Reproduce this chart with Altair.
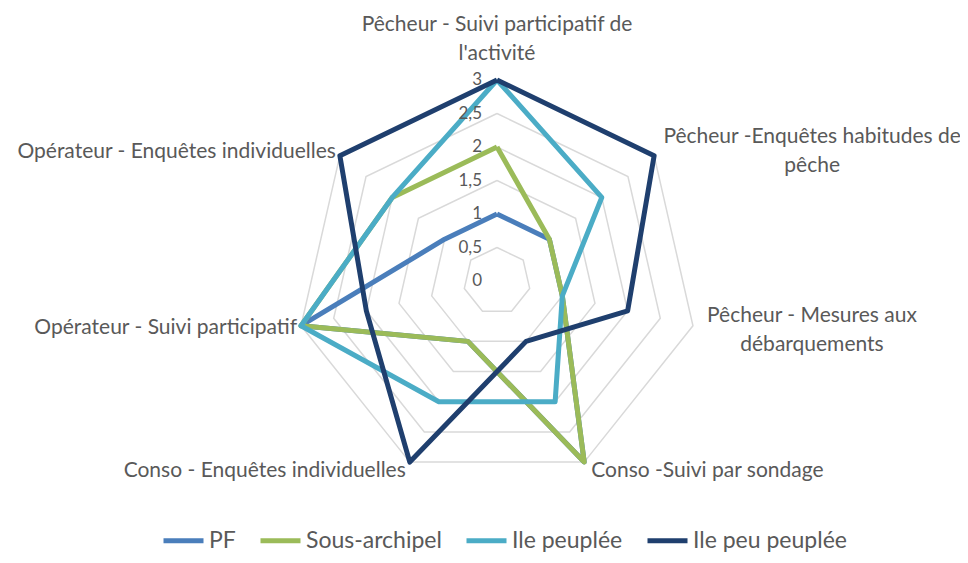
import math
import altair as alt
import pandas as pd

# ---------------- data ----------------
categories = [
    "Pêcheur - Suivi participatif de\nl'activité",
    "Pêcheur -Enquêtes habitudes de\npêche",
    "Pêcheur - Mesures aux\ndébarquements",
    "Conso -Suivi par sondage",
    "Conso - Enquêtes individuelles",
    "Opérateur - Suivi participatif",
    "Opérateur - Enquêtes individuelles",
]
series_names = ["PF", "Sous-archipel", "Ile peuplée", "Ile peu peuplée"]
pf_values = [1, 1, 1, 3, 1, 3, 1]
sous_archipel_values = [2, 1, 1, 3, 1, 3, 2]
ile_peuplee_values = [3, 2, 1, 2, 2, 3, 2]
ile_peu_peuplee_values = [3, 3, 2, 1, 3, 2, 3]
tick_values = [0, 0.5, 1, 1.5, 2, 2.5, 3]
tick_labels = ["0", "0,5", "1", "1,5", "2", "2,5", "3"]
ring_values = [0.5, 1, 1.5, 2, 2.5, 3]
max_value = 3

colors = ["#4A7EBB", "#9BBB59", "#4BACC6", "#1F3F6E"]
text_color = "#595959"
font = "Lato"

# ---------------- tables ----------------
n = len(categories)
all_series = [pf_values, sous_archipel_values, ile_peuplee_values, ile_peu_peuplee_values]
rows = []
for name, vals in zip(series_names, all_series):
    for k in range(n + 1):
        rows.append({"series": name, "k": k, "value": vals[k % n]})
series_df = pd.DataFrame(rows)

ring_rows = []
for r in ring_values:
    for k in range(n + 1):
        ring_rows.append({"ring": r, "k": k, "value": r})
ring_df = pd.DataFrame(ring_rows)

tick_df = pd.DataFrame({"value": tick_values, "label": tick_labels})
label_df = pd.DataFrame({"k": list(range(n)), "label": categories, "value": [max_value] * n})

# ---------------- layout ----------------
W, H = 952, 545
cx, cy = 489, 273      # centre of the radar in chart pixels
ppu = 67               # pixels per unit
x_dom = [-cx / ppu, (W - cx) / ppu]
y_dom = [-(H - cy) / ppu, cy / ppu]

X = alt.X("x:Q", scale=alt.Scale(domain=x_dom, nice=False, zero=False), axis=None)
Y = alt.Y("y:Q", scale=alt.Scale(domain=y_dom, nice=False, zero=False), axis=None)


def polar(chart):
    return chart.transform_calculate(
        angle=f"datum.k * 2 * PI / {n}"
    ).transform_calculate(
        x="datum.value * sin(datum.angle)",
        y="datum.value * cos(datum.angle)",
    )


rings = polar(alt.Chart(ring_df)).mark_line(
    color="#D9D9D9", strokeWidth=1.5
).encode(x=X, y=Y, detail="ring:N", order="k:Q")

lines = polar(alt.Chart(series_df)).mark_line(
    strokeWidth=5, strokeJoin="round"
).encode(
    x=X, y=Y, order="k:Q",
    color=alt.Color(
        "series:N",
        scale=alt.Scale(domain=series_names, range=colors),
        legend=alt.Legend(
            title=None, orient="none", direction="horizontal",
            legendX=153, legendY=510, symbolType="stroke",
            symbolSize=1600, symbolStrokeWidth=5, labelOffset=3,
            columnPadding=14, labelFont=font, labelFontSize=23,
            labelColor=text_color, padding=0,
        ),
    ),
)

ticks = alt.Chart(tick_df).transform_calculate(x="0", y="datum.value").mark_text(
    align="right", baseline="middle", dx=-15, font=font, fontSize=17, color=text_color
).encode(x=X, y=Y, text="label:N")

label_style = [
    # align, dx, dy  (dy places the first line)
    ("center", 0, -55),
    ("center", 158, -19),
    ("center", 119, -10),
    ("left", 7, 9),
    ("right", -4, 9),
    ("right", -4, 2),
    ("right", -4, -4),
]
label_layers = []
for k, (al, dx, dy) in enumerate(label_style):
    label_layers.append(
        polar(alt.Chart(label_df).transform_filter(f"datum.k == {k}")).mark_text(
            align=al, baseline="middle", dx=dx, dy=dy, lineBreak="\n",
            lineHeight=29, font=font, fontSize=21, color=text_color,
        ).encode(x=X, y=Y, text="label:N")
    )

chart = alt.layer(rings, lines, ticks, *label_layers).properties(
    width=W, height=H, autosize=alt.AutoSizeParams(type="none"), padding=0
).configure_view(stroke=None)

chart.save("out.html", embed_options={"renderer": "svg", "actions": False})
